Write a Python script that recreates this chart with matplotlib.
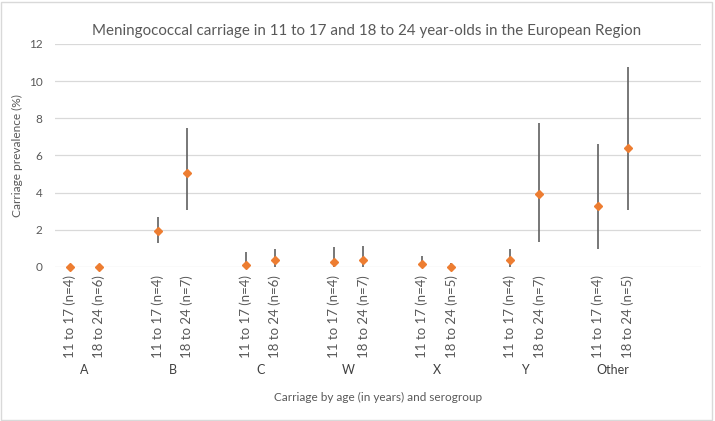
import numpy as np
import matplotlib.pyplot as plt
import matplotlib.transforms as mtransforms
from matplotlib.patches import Rectangle

plt.rcParams['font.family'] = ['Lato', 'DejaVu Sans']

# -------------- Data ----------------
groups = ["A", "B", "C", "W", "X", "Y", "Other"]
age_labels = [
    ["11 to 17 (n=4)", "18 to 24 (n=6)"],
    ["11 to 17 (n=4)", "18 to 24 (n=7)"],
    ["11 to 17 (n=4)", "18 to 24 (n=6)"],
    ["11 to 17 (n=4)", "18 to 24 (n=7)"],
    ["11 to 17 (n=4)", "18 to 24 (n=5)"],
    ["11 to 17 (n=4)", "18 to 24 (n=7)"],
    ["11 to 17 (n=4)", "18 to 24 (n=5)"],
]
prevalence = [0.0, 0.0, 1.94, 5.05, 0.1, 0.38, 0.27, 0.36, 0.14, 0.0, 0.37, 3.92, 3.26, 6.4]
ci_low = [0.0, 0.0, 1.27, 3.06, 0.0, 0.0, 0.0, 0.0, 0.0, 0.0, 0.0, 1.32, 0.97, 3.06]
ci_high = [0.0, 0.0, 2.7, 7.5, 0.79, 0.97, 1.06, 1.13, 0.59, 0.2, 0.97, 7.76, 6.61, 10.77]

# -------------- Layout: two age slots per group plus a blank slot ----------------
slot_pos = []
slot_lab = []
for g, labs in enumerate(age_labels):
    for k, lab in enumerate(labs):
        slot_pos.append(g * 3 + k)
        slot_lab.append(lab)
slot_pos = np.array(slot_pos)
prev = np.array(prevalence)
err = np.vstack([prev - np.array(ci_low), np.array(ci_high) - prev])

text_col = '#595959'
fig = plt.figure(figsize=(7.15, 4.21), dpi=100)
ax = fig.add_axes([0.0769, 0.366, 0.9035, 0.5295])

ax.errorbar(slot_pos, prev, yerr=err, fmt='none', ecolor='#606060',
            elinewidth=1.2, capsize=0, zorder=3, clip_on=False)
ax.plot(slot_pos, prev, linestyle='none', marker='D', markersize=3.8,
        color='#ED7D31', zorder=4, clip_on=False)

ax.set_xlim(-0.5, 21.5)
ax.set_ylim(0, 12)
ax.set_yticks(np.arange(0, 13, 2))
ax.set_xticks(slot_pos)
ax.set_xticklabels(slot_lab, rotation=90, fontsize=9.5, color=text_col)
ax.tick_params(axis='x', length=0, pad=6)
ax.tick_params(axis='y', length=0, pad=9, labelsize=8.5, labelcolor=text_col)
ax.grid(axis='y', color='#D9D9D9', linewidth=0.9)
ax.set_axisbelow(True)
for s in ax.spines.values():
    s.set_visible(False)

# group labels under the rotated tick labels
trans = mtransforms.blended_transform_factory(ax.transData, ax.transAxes)
for g, name in enumerate(groups):
    ax.text(g * 3 + 0.5, -0.462, name, transform=trans, ha='center', va='center',
            fontsize=9, color='#404040')

ax.text(0.5, -0.585, "Carriage by age (in years) and serogroup", transform=ax.transAxes,
        ha='center', va='center', fontsize=8.5, color=text_col)
ax.set_ylabel("Carriage prevalence (%)", fontsize=8.6, color=text_col)
ax.yaxis.set_label_coords(-0.05, 0.5)

fig.text(0.512, 0.926, "Meningococcal carriage in 11 to 17 and 18 to 24 year-olds in the European Region",
         ha='center', va='center', fontsize=10.9, color=text_col)

fig.patches.append(Rectangle((0.002, 0.002), 0.994, 0.994, transform=fig.transFigure,
                             fill=False, edgecolor='#D9D9D9', linewidth=1))

fig.savefig('out.png', dpi=100)
